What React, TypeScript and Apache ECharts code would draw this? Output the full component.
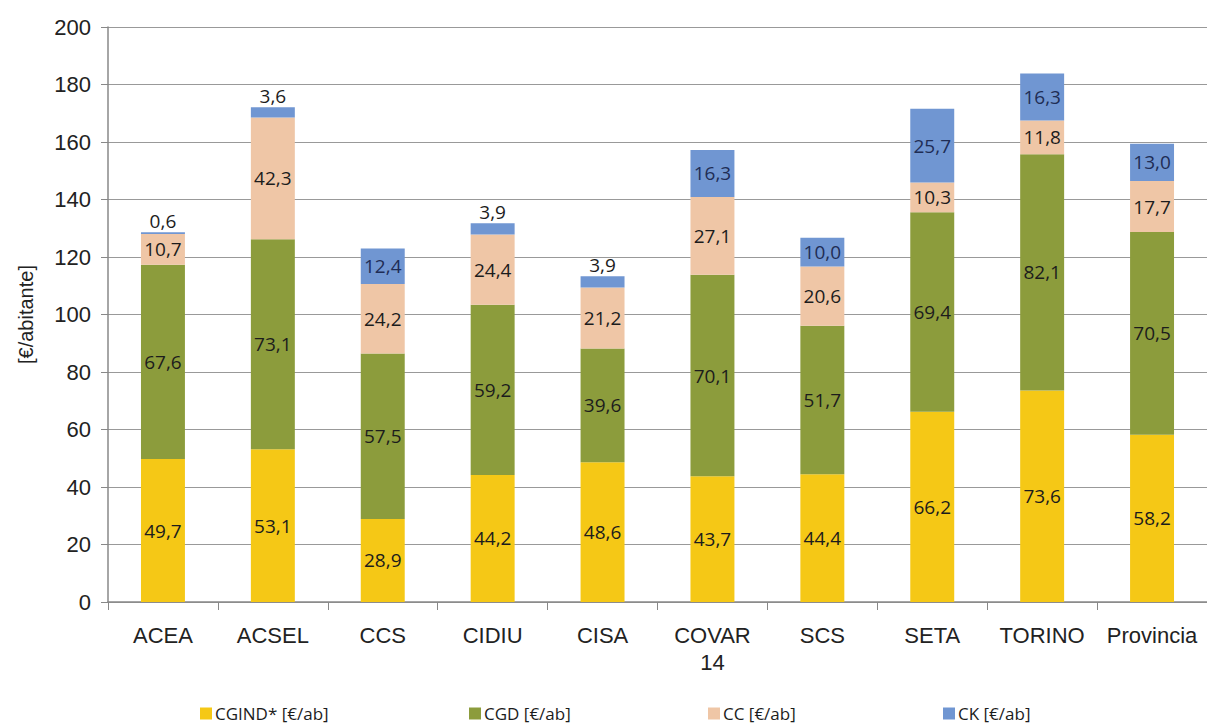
import React, { useEffect, useRef } from "react";
import * as echarts from "echarts";

const categories = ["ACEA", "ACSEL", "CCS", "CIDIU", "CISA", "COVAR\n14", "SCS", "SETA", "TORINO", "Provincia"];
const cgind = [49.7, 53.1, 28.9, 44.2, 48.6, 43.7, 44.4, 66.2, 73.6, 58.2];
const cgd = [67.6, 73.1, 57.5, 59.2, 39.6, 70.1, 51.7, 69.4, 82.1, 70.5];
const cc = [10.7, 42.3, 24.2, 24.4, 21.2, 27.1, 20.6, 10.3, 11.8, 17.7];
const ck = [0.6, 3.6, 12.4, 3.9, 3.9, 16.3, 10.0, 25.7, 16.3, 13.0];
const seriesNames = ["CGIND* [€/ab]", "CGD [€/ab]", "CC [€/ab]", "CK [€/ab]"];
const colors = ["#F5C816", "#8C9C3C", "#EFC6A6", "#7096D2"];

const fmt = (v: number) => v.toFixed(1).replace(".", ",");

export default function App() {
  const ref = useRef<HTMLDivElement>(null);
  useEffect(() => {
    document.body.style.margin = "0";
    const chart = echarts.init(ref.current!, null, { renderer: "svg" });
    const labelFont = { fontFamily: "'Open Sans', 'Noto Sans', sans-serif", fontSize: 19, color: "#1c1c1c" };
    const mk = (name: string, data: number[], i: number, smallTop = false) => ({
      name,
      type: "bar",
      stack: "total",
      barWidth: "40%",
      itemStyle: { color: colors[i] },
      data: data.map((v) => {
        const top = smallTop && v < 5;
        return {
          value: v,
          label: {
            show: true,
            position: top ? "top" : "inside",
            distance: 2,
            formatter: () => fmt(v),
            ...labelFont,
            color: i === 3 && !top ? "#1f2d55" : "#1c1c1c",
          },
        };
      }),
    });
    const legendLefts = [195, 464, 703, 938];
    chart.setOption({
      animation: false,
      backgroundColor: "#fff",
      color: colors,
      legend: seriesNames.map((n, i) => ({
        data: [n],
        left: legendLefts[i],
        top: 700,
        itemWidth: 12,
        itemHeight: 12,
        itemGap: 6,
        icon: "rect",
        textStyle: { fontFamily: "'Open Sans', 'Noto Sans', sans-serif", fontSize: 17, color: "#1c1c1c", padding: [0, 0, 0, -2] },
        selectedMode: false,
      })),
      grid: { left: 108, right: -4, top: 27, bottom: 126 },
      xAxis: {
        type: "category",
        data: categories,
        axisLine: { lineStyle: { color: "#888", width: 1.5 } },
        axisTick: { show: true, length: 8, lineStyle: { color: "#888" } },
        axisLabel: {
          fontFamily: "'Liberation Sans', Arial, sans-serif",
          fontSize: 22,
          color: "#222",
          margin: 20,
          lineHeight: 27,
          interval: 0,
        },
      },
      yAxis: {
        type: "value",
        min: 0,
        max: 200,
        interval: 20,
        name: "[€/abitante]",
        nameLocation: "middle",
        nameGap: 72,
        nameTextStyle: { fontFamily: "'Liberation Sans', Arial, sans-serif", fontSize: 20, color: "#222" },
        axisLine: { show: true, lineStyle: { color: "#888", width: 1.5 } },
        axisTick: { show: true, length: 7, lineStyle: { color: "#888" } },
        axisLabel: {
          fontFamily: "'Liberation Sans', Arial, sans-serif",
          fontSize: 22,
          color: "#222",
          margin: 17,
        },
        splitLine: { lineStyle: { color: "#999", width: 1 } },
      },
      series: [
        mk(seriesNames[0], cgind, 0),
        mk(seriesNames[1], cgd, 1),
        mk(seriesNames[2], cc, 2),
        mk(seriesNames[3], ck, 3, true),
      ],
    });
    return () => chart.dispose();
  }, []);
  return <div ref={ref} style={{ width: 1207, height: 728 }} />;
}
